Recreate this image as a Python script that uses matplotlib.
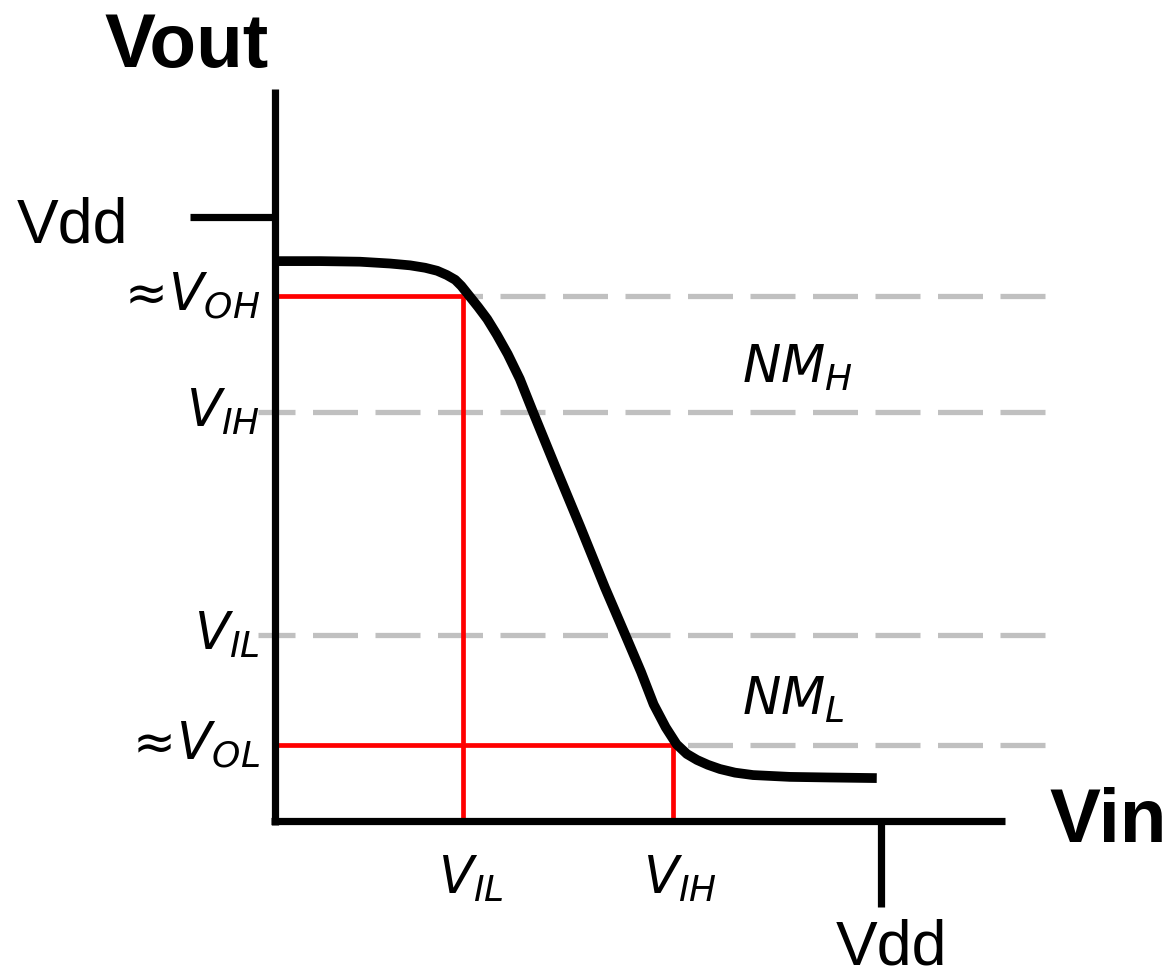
"""
Inverter voltage transfer characteristic (Vout vs Vin) with noise-margin
levels V_OH, V_IH, V_IL, V_OL marked on both axes.
"""

import matplotlib
matplotlib.use("Agg")
import matplotlib.pyplot as plt

plt.rcParams["mathtext.fontset"] = "dejavusans"
plt.rcParams["lines.scale_dashes"] = False

# ---------------------------------------------------------------------------
# Data (Vin, Vout normalised to Vdd = 1)
# ---------------------------------------------------------------------------

VIN = [0.000, 0.075, 0.141, 0.191, 0.224, 0.249, 0.269, 0.285, 0.299, 0.309,
       0.317, 0.325, 0.337, 0.352, 0.368, 0.386, 0.406, 0.428, 0.464, 0.506,
       0.547, 0.584, 0.607, 0.628, 0.648, 0.666, 0.683, 0.700, 0.718, 0.738,
       0.763, 0.793, 0.854, 0.920, 0.998]
VOUT = [0.927, 0.927, 0.926, 0.923, 0.920, 0.916, 0.911, 0.904, 0.896, 0.886,
        0.876, 0.866, 0.851, 0.831, 0.805, 0.773, 0.732, 0.677, 0.589, 0.488,
        0.387, 0.301, 0.247, 0.193, 0.155, 0.127, 0.111, 0.101, 0.093, 0.086,
        0.080, 0.076, 0.073, 0.072, 0.071]

VDD = 1.0
V_OH = 0.869
V_OL = 0.126
V_IL = 0.312          # on the Vin axis
V_IH = 0.660          # on the Vin axis
V_IH_LEVEL = 0.677    # dashed levels on the Vout axis
V_IL_LEVEL = 0.308

LEFT_LABELS = [(V_OH, r"$\approx\!V_{OH}$"), (V_IH_LEVEL, r"$V_{IH}$"),
               (V_IL_LEVEL, r"$V_{IL}$"), (V_OL, r"$\approx\!V_{OL}$")]
BOTTOM_LABELS = [(V_IL, r"$V_{IL}$"), (V_IH, r"$V_{IH}$")]

GRAY = "#c0c0c0"
RED = "#ff0000"
DASH_END = 1.277

# ---------------------------------------------------------------------------
# Plot
# ---------------------------------------------------------------------------

fig = plt.figure(figsize=(11.68, 9.79), dpi=100)
ax = fig.add_axes([0, 0, 1, 1])
ax.set_xlim(-0.456, 1.481)
ax.set_ylim(-0.260, 1.361)
ax.axis("off")

# dashed reference levels (drawn right to left so every line ends on a full dash)
dash = dict(color=GRAY, lw=3.8, dashes=(32.4, 12.6), solid_capstyle="butt",
            dash_capstyle="butt", zorder=1)
ax.plot([DASH_END, -0.028], [V_IH_LEVEL, V_IH_LEVEL], **dash)
ax.plot([DASH_END, -0.028], [V_IL_LEVEL, V_IL_LEVEL], **dash)
ax.plot([DASH_END, V_IL], [V_OH, V_OH], **dash)
ax.plot([DASH_END, V_IH], [V_OL, V_OL], **dash)

# red projection lines
red = dict(color=RED, lw=3.4, solid_capstyle="butt", zorder=2)
ax.plot([0, V_IL], [V_OH, V_OH], **red)
ax.plot([V_IL, V_IL], [0, V_OH], **red)
ax.plot([0, V_IH], [V_OL, V_OL], **red)
ax.plot([V_IH, V_IH], [0, V_OL], **red)

# axes and Vdd ticks
axis = dict(color="black", lw=5.2, solid_capstyle="butt", zorder=4)
ax.plot([0, 0], [-0.006, 1.212], **axis)
ax.plot([-0.006, 1.21], [0, 0], **axis)
ax.plot([-0.141, 0], [VDD, VDD], **axis)
ax.plot([VDD + 0.005, VDD + 0.005], [0, -0.142], **axis)

# transfer curve
ax.plot(VIN, VOUT, color="black", lw=7.0, solid_capstyle="butt",
        solid_joinstyle="round", zorder=5)

# text
bold = dict(family="Liberation Sans", fontweight="bold", fontsize=55)
ax.text(-0.146, 1.250, "Vout", ha="center", va="baseline", **bold)
ax.text(1.285, -0.033, "Vin", ha="left", va="baseline", **bold)

plain = dict(family="Liberation Sans", fontsize=45)
ax.text(-0.244, 0.959, "Vdd", ha="right", va="baseline", **plain)
ax.text(VDD + 0.022, -0.236, "Vdd", ha="center", va="baseline", **plain)

for level, label in LEFT_LABELS:
    ax.text(-0.025, level - 0.022, label, ha="right", va="baseline", fontsize=37)
for xv, label in BOTTOM_LABELS:
    ax.text(xv + 0.012, -0.118, label, ha="center", va="baseline", fontsize=37)

ax.text(0.774, 0.727, r"$NM_H$", ha="left", va="baseline", fontsize=37)
ax.text(0.774, 0.177, r"$NM_L$", ha="left", va="baseline", fontsize=37)

fig.savefig("out.png", dpi=100)
